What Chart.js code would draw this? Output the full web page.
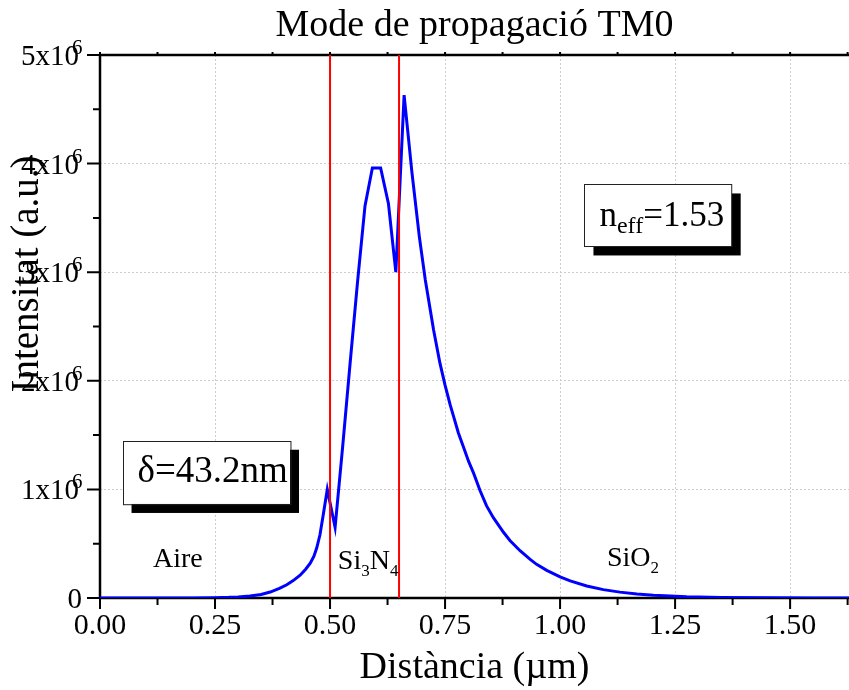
<!DOCTYPE html>
<html>
<head>
<meta charset="utf-8">
<script src="https://cdn.jsdelivr.net/npm/chart.js@4.4.1/dist/chart.umd.min.js"></script>
<style>
  html, body { margin: 0; padding: 0; background: #fff; }
  #wrap { width: 849px; height: 690px; }
</style>
</head>
<body>
<div id="wrap"><canvas id="chart"></canvas></div>
<script>
// Distance across the guide (um) and TM0 intensity (a.u.)
let distance = [0, 0.10, 0.20, 0.25, 0.28, 0.30, 0.326, 0.35, 0.37, 0.39, 0.406, 0.42, 0.435, 0.447, 0.457, 0.465, 0.471, 0.478, 0.485, 0.494,
  0.511, 0.528, 0.544, 0.560, 0.576, 0.592, 0.610, 0.627, 0.643, 0.661, 0.678, 0.694, 0.707, 0.725, 0.739, 0.75, 0.761, 0.768, 0.779, 0.79,
  0.801, 0.812, 0.826, 0.84, 0.855, 0.877, 0.891, 0.913, 0.935, 0.949, 0.971, 1.0, 1.022, 1.058, 1.094, 1.13, 1.167, 1.203, 1.275, 1.35,
  1.45, 1.55, 1.628];
let intensity = [0, 0, 0.001e6, 0.003e6, 0.006e6, 0.010e6, 0.018e6, 0.032e6, 0.055e6, 0.088e6, 0.122e6, 0.16e6, 0.21e6, 0.265e6, 0.32e6, 0.385e6, 0.46e6, 0.58e6, 0.76e6, 1.0e6,
  0.65e6, 1.42e6, 2.18e6, 2.92e6, 3.61e6, 3.96e6, 3.96e6, 3.63e6, 3.0e6, 4.63e6, 3.92e6, 3.33e6, 2.93e6, 2.47e6, 2.16e6, 1.96e6, 1.78e6, 1.68e6, 1.52e6, 1.39e6,
  1.26e6, 1.15e6, 0.99e6, 0.85e6, 0.74e6, 0.605e6, 0.53e6, 0.435e6, 0.355e6, 0.31e6, 0.255e6, 0.195e6, 0.157e6, 0.11e6, 0.077e6, 0.054e6, 0.037e6, 0.026e6, 0.012e6, 0.005e6,
  0.002e6, 0.001e6, 0];

// Interfaces Aire | Si3N4 | SiO2 (um)
let interfaces = [0.5, 0.65];

// Axis ranges and tick steps
let X_MAX = 1.628, X_STEP = 0.25;
let Y_MAX = 5e6, Y_STEP = 1e6;

const SERIF = "'Liberation Serif', 'Times New Roman', serif";
Chart.defaults.font.family = SERIF;
Chart.defaults.color = '#000';

// draws a white box with a black drop shadow
function shadowBox(ctx, x0, y0, x1, y1){
  ctx.fillStyle = '#000';
  ctx.fillRect(x0 + 9, y0 + 9, x1 - x0, y1 - y0);
  ctx.fillStyle = '#fff';
  ctx.fillRect(x0, y0, x1 - x0, y1 - y0);
  ctx.strokeStyle = '#222';
  ctx.lineWidth = 1;
  ctx.strokeRect(Math.round(x0) + 0.5, Math.round(y0) + 0.5, x1 - x0, y1 - y0);
}

// text with subscript parts: [[text, isSub], ...]
function subText(ctx, parts, x, y, size, subSize){
  ctx.textAlign = 'left';
  ctx.textBaseline = 'alphabetic';
  parts.forEach(p => {
    ctx.font = (p[1] ? subSize : size) + 'px ' + SERIF;
    ctx.fillText(p[0], x, p[1] ? y + 7 : y);
    x += ctx.measureText(p[0]).width;
  });
}

const frame = {
  id: 'frame',
  beforeDatasetsDraw(chart){
    const {ctx, chartArea: a, scales: {x, y}} = chart;
    ctx.save();
    ctx.strokeStyle = '#000';
    ctx.lineWidth = 2;
    ctx.beginPath();
    // y ticks, major + minor
    for(let k = 0; k * Y_STEP / 2 <= Y_MAX; k++){
      const py = y.getPixelForValue(k * Y_STEP / 2);
      const len = k % 2 === 0 ? 13 : 7;
      ctx.moveTo(a.left - len, py); ctx.lineTo(a.left, py);
    }
    // x ticks, major + minor
    for(let k = 0; k * X_STEP / 2 <= X_MAX; k++){
      const px = x.getPixelForValue(k * X_STEP / 2);
      const len = k % 2 === 0 ? 11 : 7;
      ctx.moveTo(px, a.bottom); ctx.lineTo(px, a.bottom + len);
      ctx.moveTo(px, a.top); ctx.lineTo(px, a.top - 3);
    }
    ctx.stroke();
    ctx.lineWidth = 2.5;
    ctx.beginPath();
    ctx.moveTo(a.left, a.top); ctx.lineTo(a.right, a.top);
    ctx.moveTo(a.left, a.top - 1); ctx.lineTo(a.left, a.bottom + 1);
    ctx.moveTo(a.left, a.bottom); ctx.lineTo(a.right, a.bottom);
    ctx.stroke();
    ctx.restore();
  },
  afterDraw(chart){
    const {ctx, chartArea: a, scales: {x, y}} = chart;
    ctx.save();
    ctx.fillStyle = '#000';
    // y tick labels, "Nx10" with superscript 6
    y.ticks.forEach(t => {
      const py = y.getPixelForValue(t.value);
      ctx.textBaseline = 'alphabetic';
      ctx.textAlign = 'right';
      ctx.font = '29px ' + SERIF;
      if(t.value === 0){
        ctx.fillText('0', a.left - 18, py + 10);
        return;
      }
      ctx.fillText((t.value / 1e6) + 'x10', a.left - 21, py + 10);
      ctx.textAlign = 'left';
      ctx.font = '21px ' + SERIF;
      ctx.fillText('6', a.left - 28, py - 1);
    });

    // y axis title
    ctx.save();
    ctx.translate(a.left - 62, a.top + 219);
    ctx.rotate(-Math.PI / 2);
    ctx.textAlign = 'center';
    ctx.textBaseline = 'alphabetic';
    ctx.font = '39px ' + SERIF;
    ctx.fillText('Intensitat (a.u.)', 0, 0);
    ctx.restore();

    // n_eff box
    let x0 = x.getPixelForValue(1.053), x1 = x.getPixelForValue(1.373);
    let y0 = y.getPixelForValue(3.808e6), y1 = y.getPixelForValue(3.237e6);
    shadowBox(ctx, x0, y0, x1, y1);
    ctx.fillStyle = '#000';
    subText(ctx, [['n', false], ['eff', true], ['=1.53', false]], x0 + 15, y0 + 42, 35, 24);

    // penetration depth box
    x0 = x.getPixelForValue(0.049); x1 = x.getPixelForValue(0.413);
    y0 = y.getPixelForValue(1.448e6); y1 = y.getPixelForValue(0.866e6);
    shadowBox(ctx, x0, y0, x1, y1);
    ctx.fillStyle = '#000';
    subText(ctx, [['δ=43.2nm', false]], x0 + 15, y0 + 41, 37, 24);

    // region names
    subText(ctx, [['Aire', false]], x.getPixelForValue(0.115), y.getPixelForValue(0.285e6), 28, 17);
    subText(ctx, [['Si', false], ['3', true], ['N', false], ['4', true]], x.getPixelForValue(0.517), y.getPixelForValue(0.267e6), 28, 17);
    subText(ctx, [['SiO', false], ['2', true]], x.getPixelForValue(1.102), y.getPixelForValue(0.295e6), 28, 17);
    ctx.restore();
  }
};

let datasets = interfaces.map(v => ({
  data: [{x: v, y: 0}, {x: v, y: Y_MAX}],
  borderColor: '#ff0000', borderWidth: 2, pointRadius: 0
}));
datasets.push({
  data: distance.map((d, i) => ({x: d, y: intensity[i]})),
  borderColor: '#0000ff', borderWidth: 3, pointRadius: 0, tension: 0
});

new Chart(document.getElementById('chart').getContext('2d'), {
  type: 'line',
  data: { datasets: datasets },
  options: {
    responsive: true,
    maintainAspectRatio: false,
    animation: false,
    layout: { padding: 0 },
    plugins: {
      legend: { display: false },
      tooltip: { enabled: false },
      title: {
        display: true, text: 'Mode de propagació TM0', fullSize: false, color: '#000',
        font: { size: 38, weight: 'normal', lineHeight: 1.2 }, padding: { top: 3, bottom: 6.4 }
      }
    },
    scales: {
      x: {
        type: 'linear', min: 0, max: X_MAX,
        afterFit: s => { s.height = 92; },
        ticks: { stepSize: X_STEP, includeBounds: false, padding: 10, maxRotation: 0, autoSkip: false,
          font: { size: 30 }, color: '#000', callback: v => v.toFixed(2) },
        grid: { color: '#cccccc', lineWidth: 1, drawTicks: false },
        border: { display: false, dash: [2, 2] },
        title: { display: true, text: 'Distància (µm)', color: '#000',
          font: { size: 38, lineHeight: 1 }, padding: { top: 0, bottom: 3 } }
      },
      y: {
        type: 'linear', min: 0, max: Y_MAX,
        afterFit: s => { s.width = 100; },
        ticks: { stepSize: Y_STEP, display: false },
        grid: { color: '#cccccc', lineWidth: 1, drawTicks: false },
        border: { display: false, dash: [2, 2] }
      }
    }
  },
  plugins: [frame]
});
</script>
</body>
</html>
